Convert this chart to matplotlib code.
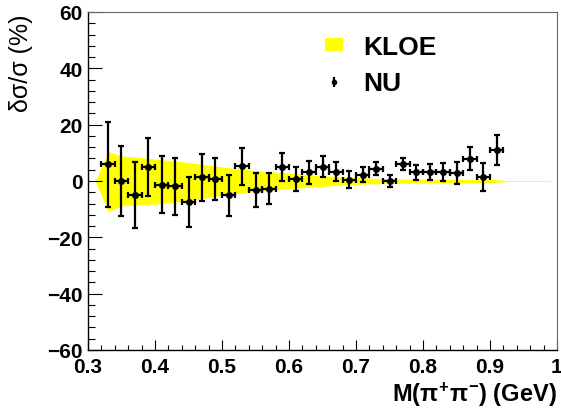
import matplotlib
matplotlib.use("Agg")
import matplotlib.pyplot as plt
from matplotlib.patches import Patch
from matplotlib.legend_handler import HandlerErrorbar

plt.rcParams['font.family'] = ['Liberation Sans', 'DejaVu Sans']
plt.rcParams['mathtext.fontset'] = 'custom'
plt.rcParams['mathtext.rm'] = 'Liberation Sans:bold'
plt.rcParams['mathtext.it'] = 'Liberation Sans:bold'
plt.rcParams['mathtext.bf'] = 'Liberation Sans:bold'

# NU points: relative difference (%) with errors
nu_x = [0.33, 0.35, 0.37, 0.39, 0.41, 0.43, 0.45, 0.47, 0.49, 0.51,
        0.53, 0.55, 0.57, 0.59, 0.61, 0.63, 0.65, 0.67, 0.69, 0.71,
        0.73, 0.75, 0.77, 0.79, 0.81, 0.83, 0.85, 0.87, 0.89, 0.91]
nu_y = [5.9, 0.0, -5.0, 5.1, -1.3, -1.8, -7.5, 1.3, 0.7, -5.1,
        5.2, -3.2, -2.8, 5.1, 0.8, 3.1, 5.1, 3.3, 0.5, 2.2,
        4.4, 0.0, 5.9, 3.1, 3.3, 3.3, 2.8, 7.9, 1.5, 11.1]
nu_err = [15.0, 12.5, 11.8, 10.3, 10.1, 10.1, 8.9, 8.4, 7.6, 7.4,
          6.5, 6.0, 5.5, 5.0, 4.3, 4.1, 3.7, 3.4, 3.0, 2.7,
          2.2, 2.0, 2.1, 2.6, 2.8, 3.2, 3.9, 4.0, 4.9, 5.3]
nu_xerr = 0.01

# KLOE error band
band_x = [0.311, 0.330, 0.350, 0.400, 0.450, 0.500, 0.550, 0.600, 0.650,
          0.700, 0.750, 0.800, 0.850, 0.900, 0.915, 0.925, 0.990]
band_hi = [0.0, 10.4, 9.0, 7.8, 6.6, 5.0, 3.7, 2.8, 1.9,
           1.2, 0.8, 0.6, 0.55, 0.5, 0.4, 0.15, 0.15]
band_lo = [0.0, -10.9, -8.8, -8.2, -7.0, -5.0, -3.7, -2.7, -1.9,
           -1.2, -0.9, -0.7, -0.6, -0.55, -0.4, -0.15, -0.15]

fig = plt.figure(figsize=(5.61, 4.10), dpi=100)
ax = fig.add_axes([88/561, 1-351/410, 469/561, 338/410])

ax.fill_between(band_x, band_lo, band_hi, color='#ffff00', lw=0)
ax.errorbar(nu_x, nu_y, xerr=nu_xerr, yerr=nu_err, fmt='o', color='k',
            ms=4, elinewidth=1.6, capsize=2, capthick=1.6)

ax.set_xlim(0.3, 1.0)
ax.set_ylim(-60, 60)
ax.set_xticks([0.3, 0.4, 0.5, 0.6, 0.7, 0.8, 0.9, 1.0])
ax.set_xticklabels(['0.3', '0.4', '0.5', '0.6', '0.7', '0.8', '0.9', '1'])
ax.set_xticks([0.3 + 0.02*i for i in range(36)], minor=True)
ax.set_yticks([-60, -40, -20, 0, 20, 40, 60])
ax.set_yticks(range(-60, 61, 4), minor=True)

for lab in ax.get_xticklabels() + ax.get_yticklabels():
    lab.set_fontweight('bold')
    lab.set_fontsize(15)
ax.tick_params(axis='x', which='major', direction='in', length=7.2, width=0.8, pad=5)
ax.tick_params(axis='x', which='minor', direction='in', length=3.6, width=0.8)
ax.tick_params(axis='y', which='major', direction='in', length=10, width=0.8, pad=4)
ax.tick_params(axis='y', which='minor', direction='in', length=5, width=0.8)
for s in ['top', 'right']:
    ax.spines[s].set_color('#666666')
    ax.spines[s].set_linewidth(0.8)
for s in ['left', 'bottom']:
    ax.spines[s].set_linewidth(1.0)

# axis titles
fig.text(21/561, 1-14/410, 'δσ/σ (%)', rotation=90, ha='center', va='top', fontsize=18)
fig.text(557/561, 1-402/410, r'M($\pi^{+}\pi^{-}$) (GeV)', ha='right', va='baseline',
         fontsize=17, fontweight='bold')

# legend
h_kloe = Patch(facecolor='#ffff00', edgecolor='none')
h_nu = ax.errorbar([], [], yerr=[], fmt='o', color='k', ms=3, elinewidth=1.6)
ax.legend([h_kloe, h_nu], ['KLOE', 'NU'], loc='upper left',
          bbox_to_anchor=((325-88)/469, (351-36)/338), frameon=False,
          prop={'weight': 'bold', 'size': 19}, handlelength=0.7, handleheight=0.4,
          handletextpad=0.75, borderpad=0, borderaxespad=0, labelspacing=0.45,
          handler_map={h_nu: HandlerErrorbar(xerr_size=0.2)})

fig.savefig('out.png', dpi=100)
